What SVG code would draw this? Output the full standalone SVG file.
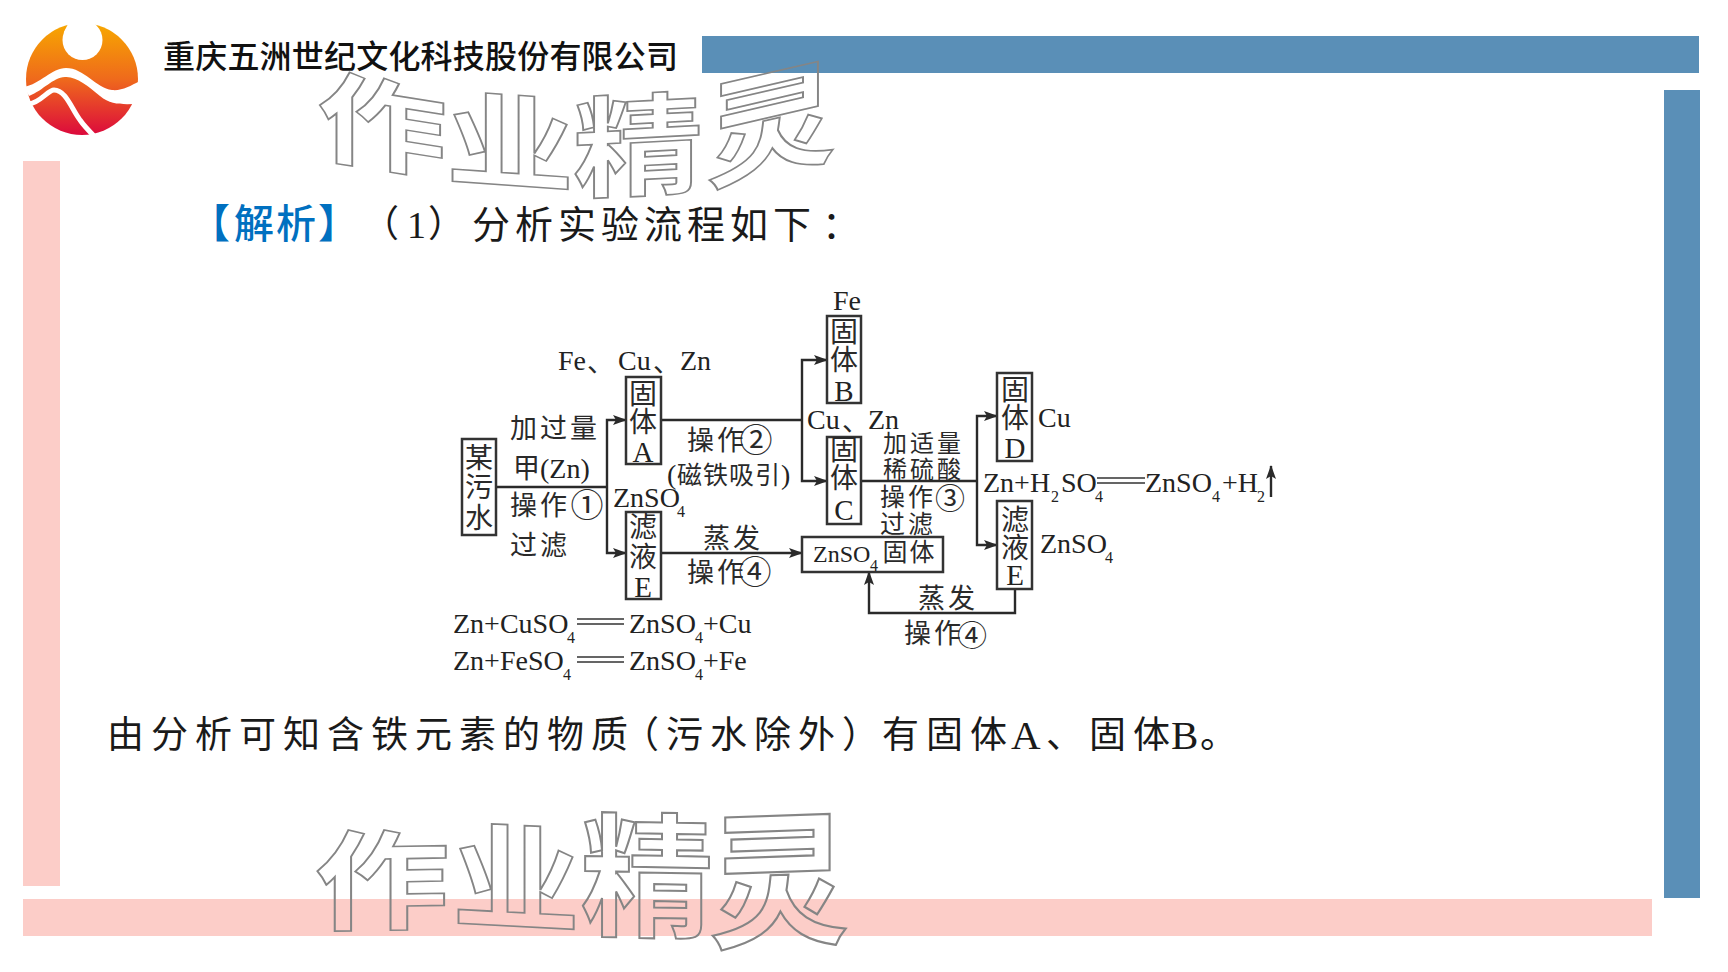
<svg xmlns="http://www.w3.org/2000/svg" width="1728" height="972" viewBox="0 0 1728 972">
<style>
text{font-family:"Liberation Serif","Noto Sans CJK SC",serif;fill:#222}
.c{font-family:"Noto Sans CJK SC",sans-serif;font-size:28px;fill:#2a2a2a;text-anchor:middle;dominant-baseline:central;transform:translateY(-2px)}
.l{font-family:"Noto Sans CJK SC",sans-serif;font-size:27px;letter-spacing:3px;fill:#2a2a2a;dominant-baseline:central;transform:translateY(-2px)}
.n{font-size:33px}
.m{font-size:29px;text-anchor:middle}
.t{font-size:28px}
.s{font-size:16px}
.box{fill:none;stroke:#333;stroke-width:2.5}
.ln{fill:none;stroke:#2a2a2a;stroke-width:2.4}
.eq{stroke:#333;stroke-width:1.6}
.wm{font-family:"Noto Sans CJK SC",sans-serif;font-weight:700;font-size:100px;fill:none;stroke:#858585;stroke-width:1.5;text-anchor:middle}
.big{font-family:"Noto Sans CJK SC",sans-serif;font-size:37px;fill:#1a1a1a;dominant-baseline:central;transform:translateY(-3px)}
.blue{fill:#0070c0;font-size:40px;font-weight:500}
.lat{font-size:41px;fill:#1a1a1a}
</style>
<defs>
<linearGradient id="lg" x1="0" y1="0" x2="0" y2="1"><stop offset="0" stop-color="#f7a800"/><stop offset=".5" stop-color="#ef6a1c"/><stop offset="1" stop-color="#dc0a3c"/></linearGradient>
<marker id="a" markerUnits="userSpaceOnUse" markerWidth="14" markerHeight="10" refX="13" refY="5" orient="auto"><path d="M0 0L14 5L0 10L3 5Z" fill="#2a2a2a"/></marker>
</defs>
<rect width="1728" height="972" fill="#fff"/>
<g id="bars">
<rect x="702" y="36" width="997" height="37" fill="#5a8fb7"/>
<rect x="1664" y="90" width="36" height="808" fill="#5a8fb7"/>
<rect x="23" y="161" width="37" height="725" fill="#fccdc8"/>
<rect x="23" y="899" width="1629" height="37" fill="#fccdc8"/>
</g>
<g id="logo">
<circle cx="82" cy="79" r="56" fill="url(#lg)"/>
<path d="M70 20L93 20L100 32L64 32Z" fill="#fff"/>
<circle cx="82.500" cy="40" r="20" fill="#fff"/>
<path d="M24 87C40 84 52 68 66 68C84 68 96 88 112 90C122 91 130 86 140 81V104C124 104 112 106 100 96C88 86 76 76 65 77C52 78 44 90 29 96Z" fill="#fff"/>
<path d="M29 104C40 103 48 90 54 90C66 90 72 110 80 120C84 126 90 132 96 138" fill="none" stroke="#fff" stroke-width="5"/>
</g>
<text id="company" x="163" y="68" font-size="32" font-weight="500" letter-spacing=".2" style="font-family:'Noto Sans CJK SC',sans-serif;fill:#111">重庆五洲世纪文化科技股份有限公司</text>
<g id="watermark-top">
<text class="wm" transform="translate(382,126) skewY(9) scale(1.3,1)" y="36">作</text>
<text class="wm" transform="translate(510,144) skewY(4) scale(1.28,1.03)" y="36">业</text>
<text class="wm" transform="translate(638,147) skewY(-3) scale(1.3,1.1)" y="36">精</text>
<text class="wm" transform="translate(771,125) skewY(-13) scale(1.3,1.15)" y="36">灵</text>
</g>
<g id="watermark-bottom">
<text class="wm" transform="translate(382,882) skewY(-1) scale(1.35,1.08)" y="36">作</text>
<text class="wm" transform="translate(516,880) skewY(3) scale(1.28,1.15)" y="36">业</text>
<text class="wm" transform="translate(647,878) skewY(1) scale(1.33,1.34)" y="36">精</text>
<text class="wm" transform="translate(779,882) skewY(-2) scale(1.4,1.45)" y="36">灵</text>
</g>
<g id="heading">
<text class="big blue" x="190" y="224">【</text>
<text class="big blue" x="234" y="224" letter-spacing="2">解析</text>
<text class="big blue" x="318" y="224">】</text>
<text class="big" x="362" y="224">（</text>
<text x="407" y="238" style="font-size:38px;fill:#1a1a1a">1</text>
<text class="big" x="428" y="224">）</text>
<text class="big" x="472" y="224" style="font-size:38px" letter-spacing="5">分析实验流程如下</text>
<text class="big" x="822" y="224" style="font-size:38px">：</text>
</g>
<g id="conclusion">
<text class="big" x="107" y="735" letter-spacing="7">由分析可知含铁元素的物质</text>
<text class="big" x="622" y="735" letter-spacing="7">（污水除外）</text>
<text class="big" x="882" y="735" letter-spacing="7">有固体</text>
<text class="lat" x="1011" y="749">A</text>
<text class="big" x="1046" y="735">、</text>
<text class="big" x="1089" y="735" letter-spacing="7">固体</text>
<text class="lat" x="1171" y="749">B</text>
<text class="big" x="1200" y="735">。</text>
</g>
<g id="connectors">
<path class="ln" d="M496 487H607"/>
<path class="ln" marker-end="url(#a)" d="M607 487V420H626"/>
<path class="ln" marker-end="url(#a)" d="M607 487V553H626"/>
<path class="ln" d="M661 420H802"/>
<path class="ln" marker-end="url(#a)" d="M802 420V360H827"/>
<path class="ln" marker-end="url(#a)" d="M802 420V481H827"/>
<path class="ln" d="M861 481H977"/>
<path class="ln" marker-end="url(#a)" d="M977 481V416H997"/>
<path class="ln" marker-end="url(#a)" d="M977 481V545H997"/>
<path class="ln" marker-end="url(#a)" d="M661 553H802"/>
<path class="ln" marker-end="url(#a)" d="M1015 589V613H869V572"/>
<path class="ln" marker-end="url(#a)" d="M1271 497V466"/>
</g>
<g id="n-wushui"><rect class="box" x="462" y="439" width="34" height="96"/><text class="c" x="479" y="458">某</text><text class="c" x="479" y="487">污</text><text class="c" x="479" y="518">水</text></g>
<g id="n-a"><rect class="box" x="626" y="377" width="35" height="87"/><text class="c" x="643" y="394">固</text><text class="c" x="643" y="422">体</text><text class="m" x="643" y="462">A</text></g>
<g id="n-e1"><rect class="box" x="626" y="512" width="35" height="87"/><text class="c" x="643" y="527">滤</text><text class="c" x="643" y="557">液</text><text class="m" x="643" y="597">E</text></g>
<g id="n-b"><rect class="box" x="827" y="316" width="34" height="87"/><text class="c" x="844" y="332">固</text><text class="c" x="844" y="360">体</text><text class="m" x="844" y="401">B</text></g>
<g id="n-c"><rect class="box" x="827" y="437" width="34" height="87"/><text class="c" x="844" y="450">固</text><text class="c" x="844" y="478">体</text><text class="m" x="844" y="520">C</text></g>
<g id="n-d"><rect class="box" x="997" y="373" width="35" height="88"/><text class="c" x="1015" y="390">固</text><text class="c" x="1015" y="418">体</text><text class="m" x="1015" y="458">D</text></g>
<g id="n-e2"><rect class="box" x="997" y="501" width="35" height="88"/><text class="c" x="1015" y="520">滤</text><text class="c" x="1015" y="548">液</text><text class="m" x="1015" y="585">E</text></g>
<g id="n-zs"><rect class="box" x="802" y="537" width="141" height="35"/><text x="813" y="562" style="font-size:24px">ZnSO</text><text class="s" x="870" y="571">4</text><text class="c" x="895" y="552" style="font-size:25px">固</text><text class="c" x="922" y="552" style="font-size:25px">体</text></g>
<g id="labels">
<text class="t" x="558" y="370">Fe</text><text class="l" x="587" y="362">、</text><text class="t" x="618" y="370">Cu</text><text class="l" x="653" y="362">、</text><text class="t" x="680" y="370">Zn</text>
<text class="t" x="833" y="310">Fe</text>
<text class="t" x="807" y="429">Cu</text><text class="l" x="842" y="421">、</text><text class="t" x="868" y="429">Zn</text>
<text class="l" x="510" y="428">加过量</text>
<text class="l" x="513" y="468">甲</text><text class="t" x="540" y="478">(Zn)</text>
<text class="l" x="510" y="505">操作</text><text class="c n" x="587" y="505">①</text>
<text class="l" x="510" y="545">过滤</text>
<text class="t" x="613" y="507">ZnSO</text><text class="s" x="677" y="517">4</text>
<text class="l" x="687" y="440">操作</text><text class="c n" x="756" y="440">②</text>
<text class="t" x="667" y="484">(</text><text class="l" x="677" y="475" style="font-size:25px;letter-spacing:1px">磁铁吸引</text><text class="t" x="781" y="484">)</text>
<text class="l" x="703" y="538">蒸发</text>
<text class="l" x="687" y="572">操作</text><text class="c n" x="755" y="572">④</text>
<text class="l" x="883" y="443" style="font-size:24px">加适量</text>
<text class="l" x="883" y="469" style="font-size:24px">稀硫酸</text>
<text class="l" x="880" y="497" style="font-size:25px">操作</text><text class="c n" x="950" y="498" style="font-size:30px">③</text>
<text class="l" x="880" y="524" style="font-size:25px">过滤</text>
<text class="t" x="1038" y="427">Cu</text>
<text class="t" x="1040" y="553">ZnSO</text><text class="s" x="1105" y="563">4</text>
<text class="l" x="918" y="598">蒸发</text>
<text class="l" x="904" y="633">操作</text><text class="c n" x="972" y="635" style="font-size:30px">④</text>
</g>
<g id="equations">
<text class="t" x="453" y="633">Zn+CuSO</text><text class="s" x="567" y="643">4</text>
<path class="eq" d="M577 619H624M577 624H624"/>
<text class="t" x="629" y="633">ZnSO</text><text class="s" x="695" y="643">4</text><text class="t" x="703" y="633">+Cu</text>
<text class="t" x="453" y="670">Zn+FeSO</text><text class="s" x="563" y="680">4</text>
<path class="eq" d="M577 657H624M577 662H624"/>
<text class="t" x="629" y="670">ZnSO</text><text class="s" x="695" y="680">4</text><text class="t" x="703" y="670">+Fe</text>
<text class="t" x="983" y="492">Zn+H</text><text class="s" x="1051" y="502">2</text><text class="t" x="1061" y="492">SO</text><text class="s" x="1095" y="502">4</text>
<path class="eq" d="M1097 478H1145M1097 483H1145"/>
<text class="t" x="1145" y="492">ZnSO</text><text class="s" x="1212" y="502">4</text><text class="t" x="1222" y="492">+H</text><text class="s" x="1257" y="502">2</text>
</g>
</svg>
